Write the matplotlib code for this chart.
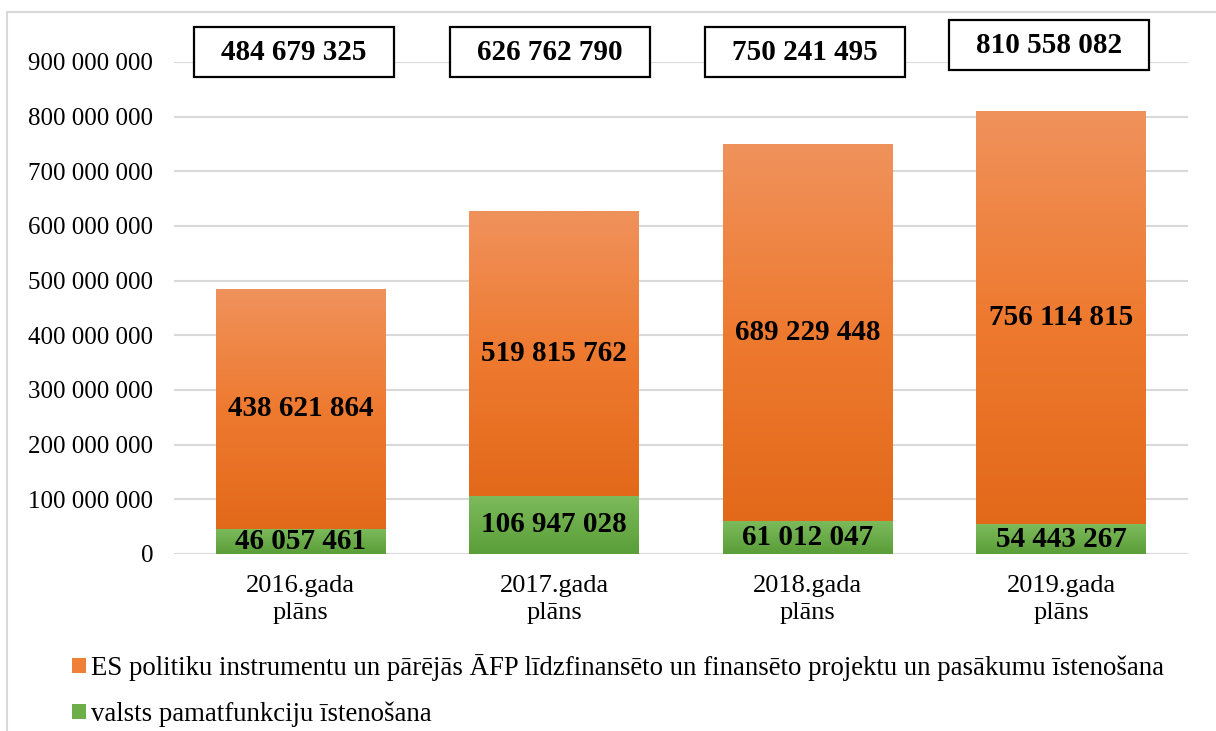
import numpy as np
import matplotlib.pyplot as plt
from matplotlib.patches import Patch, Rectangle
from matplotlib.colors import LinearSegmentedColormap
from matplotlib.lines import Line2D

plt.rcParams['font.family'] = ['Liberation Serif', 'DejaVu Serif']

# ~~~~~~~~~~~~~~~~~ data ~~~~~~~~~~~~~~~~~
categories = ['2016.gada\nplāns', '2017.gada\nplāns', '2018.gada\nplāns', '2019.gada\nplāns']
valsts = [46057461, 106947028, 61012047, 54443267]
es_proj = [438621864, 519815762, 689229448, 756114815]
totals = [484679325, 626762790, 750241495, 810558082]
es_label = 'ES politiku instrumentu un pārējās ĀFP līdzfinansēto un finansēto projektu un pasākumu īstenošana'
valsts_label = 'valsts pamatfunkciju īstenošana'
ticks = np.arange(0, 900000001, 100000000)


def fmt(v):
    return '{:,}'.format(int(v)).replace(',', ' ')


W, H = 1216, 731
fig = plt.figure(figsize=(W / 100, H / 100), dpi=100)
ax = fig.add_axes([174 / W, 177 / H, (1188 - 174) / W, (669 - 177) / H])

x = np.arange(len(categories))
bw = 0.67

orange_cm = LinearSegmentedColormap.from_list('o', ['#E3691A', '#EE7A30', '#F0925C'])
green_cm = LinearSegmentedColormap.from_list('g', ['#5A9E38', '#7DBB5C'])
grad = np.linspace(0, 1, 256).reshape(-1, 1)

b1 = ax.bar(x, valsts, bw, color='#6DAE4A', zorder=2)
b2 = ax.bar(x, es_proj, bw, bottom=valsts, color='#F07F38', zorder=2)

for bars, cm in [(b1, green_cm), (b2, orange_cm)]:
    for r in bars:
        x0, y0 = r.get_x(), r.get_y()
        im = ax.imshow(grad, cmap=cm, origin='lower', aspect='auto', zorder=3,
                       extent=[x0, x0 + r.get_width(), y0, y0 + r.get_height()])
        im.set_clip_path(r)

# bar value labels
for i in range(len(x)):
    ax.text(x[i], valsts[i] / 2, fmt(valsts[i]), ha='center', va='center',
            fontsize=21, fontweight='bold', zorder=5)
    ax.text(x[i], valsts[i] + es_proj[i] / 2, fmt(es_proj[i]), ha='center', va='center',
            fontsize=21, fontweight='bold', zorder=5)

# total boxes above
box_x = [-0.026, -0.018, -0.012, -0.047]
box_y = [918e6, 918e6, 918e6, 931e6]
box_w, box_h = 0.79, 91e6
for i in range(len(x)):
    cx, cy = x[i] + box_x[i], box_y[i]
    ax.add_patch(Rectangle((cx - box_w / 2, cy - box_h / 2), box_w, box_h,
                           fc='white', ec='black', lw=1.6, zorder=6, clip_on=False))
    ax.text(cx, cy, fmt(totals[i]), ha='center', va='center',
            fontsize=21, fontweight='bold', zorder=7, clip_on=False)

ax.set_xlim(-0.5, 3.5)
ax.set_ylim(0, 900000000)
ax.set_yticks(ticks)
ax.set_yticklabels([fmt(t) for t in ticks], fontsize=18)
ax.set_xticks(x)
ax.set_xticklabels(categories, fontsize=19, linespacing=1.3)
ax.tick_params(axis='x', length=0, pad=15)
ax.tick_params(axis='y', length=0, pad=15)
ax.yaxis.grid(True, color='#D9D9D9', lw=1.5, zorder=0)
ax.set_axisbelow(True)
for s in ax.spines.values():
    s.set_visible(False)

handles = [Patch(facecolor='#F07F38', edgecolor='none'),
           Patch(facecolor='#6DAE4A', edgecolor='none')]
fig.legend(handles, [es_label, valsts_label], loc='upper left',
           bbox_to_anchor=(48 / W, 1 - 630 / H), frameon=False, fontsize=19.3,
           handlelength=0.5, handleheight=0.5, handletextpad=0.2,
           labelspacing=0.75)

# outer chart border
fig.add_artist(Line2D([7 / W, 1], [1 - 12 / H, 1 - 12 / H], color='#D9D9D9', lw=1.5))
fig.add_artist(Line2D([7 / W, 7 / W], [0, 1 - 12 / H], color='#D9D9D9', lw=1.5))

fig.savefig('out.png', dpi=100)
